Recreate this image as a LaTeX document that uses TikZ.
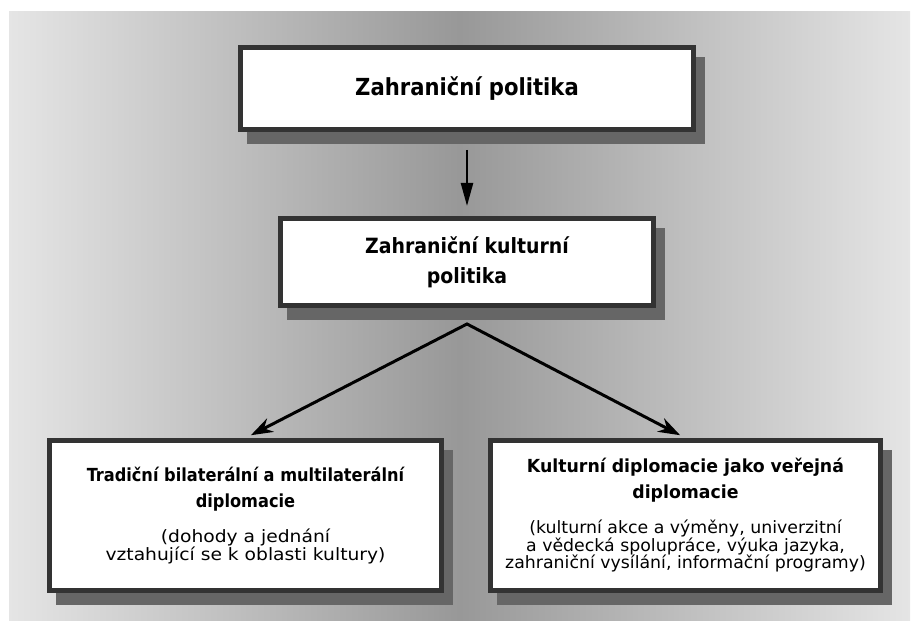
\documentclass[tikz,border=0pt]{standalone}
\usepackage{fontspec}
\setmainfont{DejaVu Sans}
\newfontfamily\headfont{DejaVu Sans Condensed}
\newfontfamily\headwide{DejaVu Sans Condensed}[FakeStretch=1.07]
\newfontfamily\subleft{DejaVu Sans}[FakeStretch=1.10]
\newfontfamily\subright{DejaVu Sans}[FakeStretch=1.02]
\usetikzlibrary{arrows.meta, backgrounds, calc}
\definecolor{bgedgec}{RGB}{229,229,229}
\definecolor{bgmidc}{RGB}{152,152,152}
\definecolor{framec}{RGB}{51,51,51}
\definecolor{shadec}{RGB}{102,102,102}
\definecolor{inkc}{RGB}{0,0,0}
\tikzset{
  box/.style={
    rectangle, draw=framec, fill=white, line width=5pt,
    align=center, inner sep=4pt, text=inkc
  },
  arr/.style={-{Triangle[length=23pt, width=12pt]}, line width=2.3pt, draw=inkc},
  forkarr/.style={{Stealth[length=22pt, width=15pt]}-{Stealth[length=22pt, width=15pt]},
                  line width=3pt, draw=inkc},
}
\newcommand{\hd}{\headfont\bfseries\fontsize{18}{18}\selectfont}
\newcommand{\hdw}{\headwide\bfseries\fontsize{18}{18}\selectfont}
\newcommand{\sbl}{\subleft\fontsize{17}{18}\selectfont}
\newcommand{\sbr}{\subright\fontsize{17}{17.5}\selectfont}

\begin{document}
\begin{tikzpicture}[x=1pt, y=-1pt]

  \useasboundingbox (0,0) rectangle (919,628);

  \begin{scope}[on background layer]
    \fill[left color=bgedgec, right color=bgedgec, middle color=bgmidc]
      (9,12) rectangle (910,620);
  \end{scope}

  \node[box, minimum width=453pt, minimum height=82pt,
        font={\headfont\bfseries\fontsize{23.5}{28}\selectfont}] (b1) at (467,88.5)
    {Zahraniční politika};
  \node[box, minimum width=373pt, minimum height=87pt,
        font={\headfont\bfseries\fontsize{21}{30}\selectfont}] (b2) at (467,262)
    {Zahraniční kulturní\\politika};
  \node[box, minimum width=392pt, minimum height=150pt,
        font={\sbl\lineskiplimit=-20pt}] (b3) at (245.5,515.5)
    {\hd Tradiční bilaterální a multilaterální\\[8pt]
     \hd diplomacie\\[17pt]
     \sbl (dohody a jednání\\
     \sbl vztahující se k oblasti kultury)};
  \node[box, minimum width=390pt, minimum height=150pt,
        font={\sbr\lineskiplimit=-20pt}] (b4) at (685.5,515.5)
    {\hdw Kulturní diplomacie jako veřejná\\[8.5pt]
     \hdw diplomacie\\[17.5pt]
     \sbr (kulturní akce a výměny, univerzitní\\
     \sbr a vědecká spolupráce, výuka jazyka,\\
     \sbr zahraniční vysílání, informační programy)};

  \begin{scope}[on background layer]
    \foreach \n in {b1,b2,b3,b4} {
      \fill[shadec] ($(\n.south west)+(9,12)$) rectangle ($(\n.north east)+(9,12)$);
    }
  \end{scope}

  \coordinate (fork) at ($(b2.south)+(0,16)$);

  \draw[arr, shorten <=18pt, shorten >=10pt] (b1) -- (b2);
  \draw[forkarr, shorten <=6pt, shorten >=6pt] (b3.north) -- (fork) -- (b4.north);

\end{tikzpicture}
\end{document}
